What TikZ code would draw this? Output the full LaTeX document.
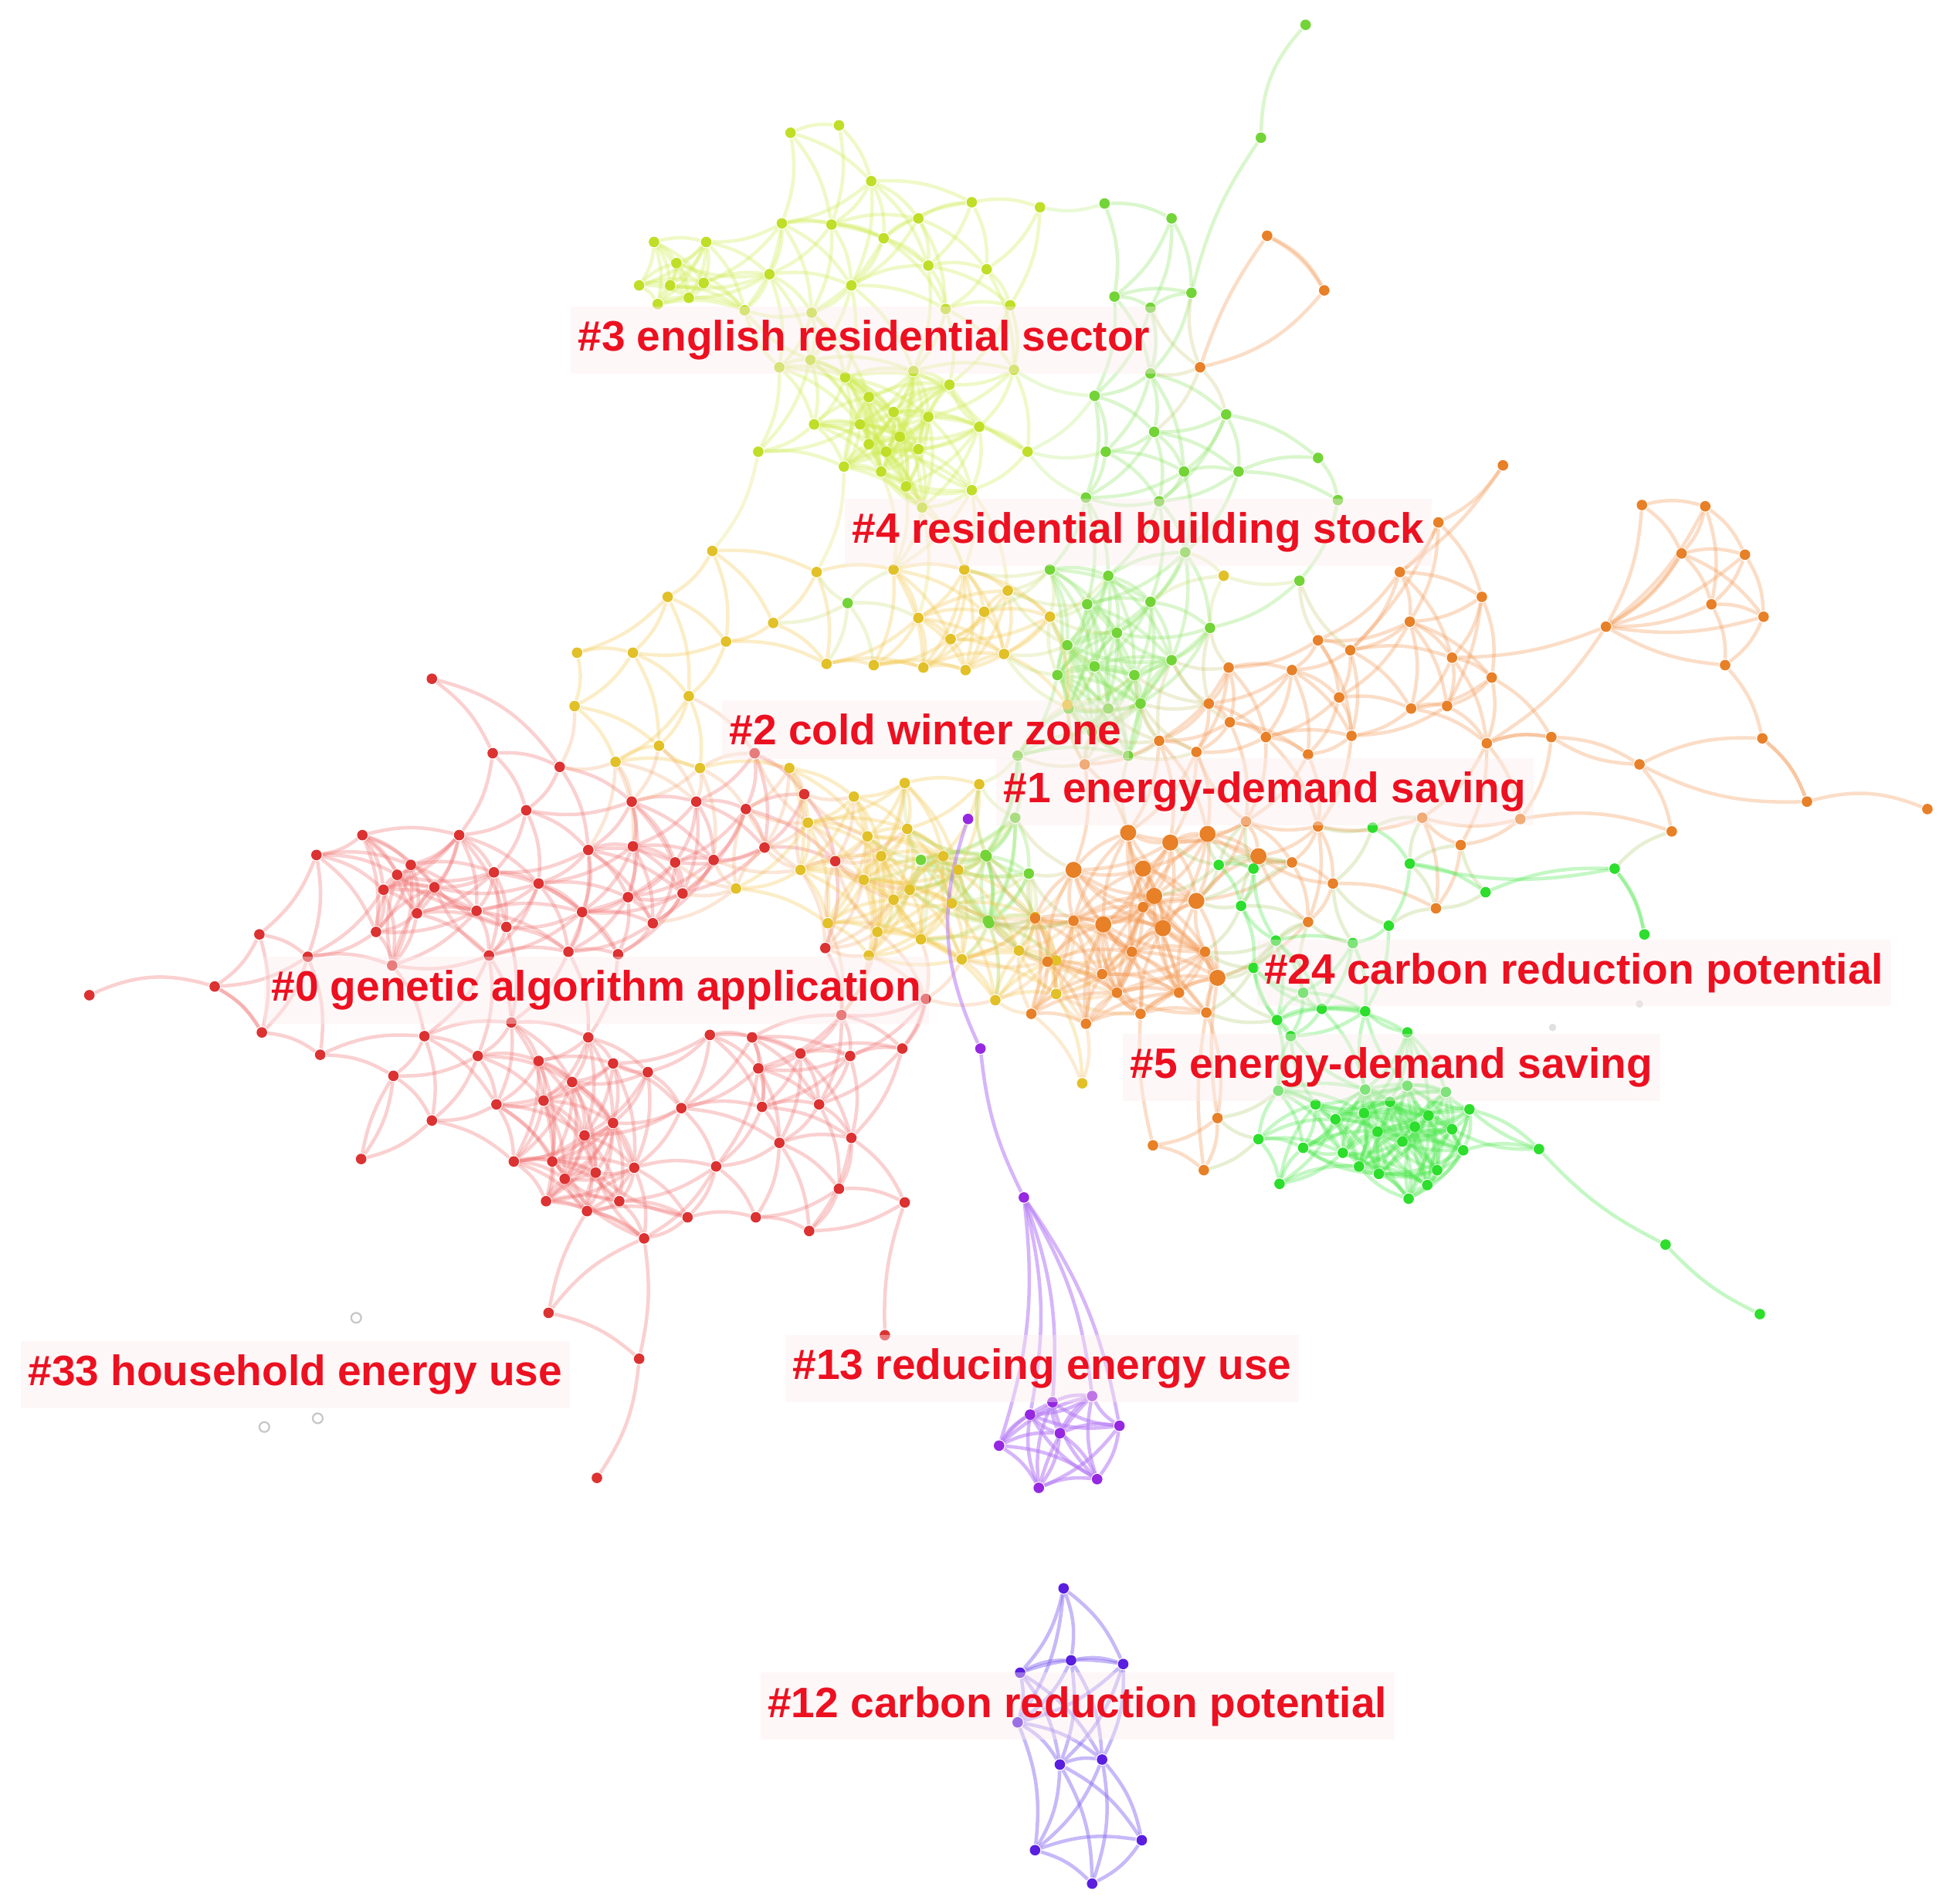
\documentclass[tikz,border=0pt]{standalone}
\usepackage{fontspec}
\setmainfont{Liberation Sans}
\pgfdeclarelayer{edges}
\pgfsetlayers{edges,main}
\definecolor{cR}{RGB}{220,50,50}   \definecolor{cRe}{RGB}{240,110,110}
\definecolor{cY3}{RGB}{192,222,40} \definecolor{cY3e}{RGB}{205,235,80}
\definecolor{cG4}{RGB}{115,212,55} \definecolor{cG4e}{RGB}{140,228,100}
\definecolor{cY2}{RGB}{226,192,40} \definecolor{cY2e}{RGB}{242,200,80}
\definecolor{cO1}{RGB}{232,128,40} \definecolor{cO1e}{RGB}{242,150,80}
\definecolor{cG5}{RGB}{45,222,45}  \definecolor{cG5e}{RGB}{70,230,70}
\definecolor{cP}{RGB}{150,40,225}  \definecolor{cPe}{RGB}{180,120,245}
\definecolor{cB}{RGB}{90,30,225}   \definecolor{cBe}{RGB}{130,100,240}
\definecolor{cLab}{RGB}{236,16,32} \definecolor{cLbg}{RGB}{252,236,238}
\tikzset{
  dot/.style={circle,inner sep=0pt,minimum size=0.85mm,draw=none},
  dR/.style={dot,fill=cR}, dY3/.style={dot,fill=cY3}, dG4/.style={dot,fill=cG4},
  dY2/.style={dot,fill=cY2}, dO1/.style={dot,fill=cO1}, dO1big/.style={dot,fill=cO1,minimum size=1.3mm},
  dG5/.style={dot,fill=cG5}, dP/.style={dot,fill=cP}, dB/.style={dot,fill=cB},
  hollow/.style={circle,inner sep=0pt,minimum size=0.8mm,draw=black!22,line width=0.4pt},
  faint/.style={circle,inner sep=0pt,minimum size=0.6mm,fill=black!12},
  edg/.style={line width=0.8pt,draw opacity=0.32},
  eR/.style={edg,draw=cRe}, eY3/.style={edg,draw=cY3e}, eG4/.style={edg,draw=cG4e},
  eY2/.style={edg,draw=cY2e}, eO1/.style={edg,draw=cO1e}, eG5/.style={edg,draw=cG5e},
  eP/.style={edg,draw=cPe,draw opacity=0.55}, eB/.style={edg,draw=cBe,draw opacity=0.45},
  eRT/.style={edg,draw=cRe!50!cY2e,draw opacity=0.25},
  eTY/.style={edg,draw=cY2e!50!cY3e,draw opacity=0.25},
  eYG/.style={edg,draw=cY3e!50!cG4e,draw opacity=0.25},
  eTG/.style={edg,draw=cY2e!50!cG4e,draw opacity=0.25},
  eTO/.style={edg,draw=cY2e!50!cO1e,draw opacity=0.25},
  eGO/.style={edg,draw=cG4e!50!cO1e,draw opacity=0.25},
  eOF/.style={edg,draw=cO1e!50!cG5e,draw opacity=0.25},
  lbl/.style={anchor=west,font=\fontsize{9.75}{11}\selectfont\bfseries,text=cLab,
    fill=cLbg,fill opacity=0.4,text opacity=1,inner xsep=0.6mm,inner ysep=1.1mm}
}
\newcommand\mknodes[3]{\foreach \x/\y in #2 {\node[#3] (#1\x-\y) at (\x,\y) {};}}
\newcommand\mkweb[4]{%
  \foreach \xa/\ya [count=\ia] in #2 {%
    \foreach \xb/\yb [count=\ib] in #2 {%
      \ifnum\ib>\ia\relax
        \pgfmathparse{veclen(\xb-\xa,\yb-\ya)}%
        \ifdim\pgfmathresult pt<#3pt\relax
          \draw[#4] (#1\xa-\ya) to[bend left=14] (#1\xb-\yb);
        \fi
      \fi
    }%
  }%
}
\newcommand\mkcross[6]{%
  \foreach \xa/\ya in #2 {%
    \foreach \xb/\yb in #4 {%
        \pgfmathparse{veclen(\xb-\xa,\yb-\ya)}%
        \ifdim\pgfmathresult pt<#5pt\relax
          \draw[#6] (#1\xa-\ya) to[bend right=14] (#3\xb-\yb);
        \fi
    }%
  }%
}
\def\Rlist{348/547,397/607,451/618,608/607,509/646,561/646,601/652,648/640,424/653,292/673,370/673,255/689,474/685,510/682,616/683,673/694,544/695,575/693,331/697,398/703,434/712,550/720,309/717,336/736,384/734,506/723,469/735,303/751,408/747,526/744,209/753,248/771,394/770,458/767,498/769,665/764,316/778,72/802,173/795,746/805,211/832,258/850,342/835,412/824,474/836,572/834,606/836,678/818,385/851,522/864,434/855,494/857,645/849,685/851,727/845,611/861,317/867,461/872,438/887,400/890,549/893,614/892,660/890,348/903,494/905,471/915,628/921,686/917,291/934,414/936,445/936,511/941,577/940,676/958,440/968,499/968,473/976,729/969,554/981,609/981,519/998,652/992,442/1058,713/1076,515/1095,481/1191,350/715,320/705,455/950,480/945}
\def\Ylist{637/107,676/101,702/146,630/180,670/181,712/192,740/176,783/163,838/167,527/195,569/195,515/230,567/228,620/221,686/230,748/214,795/217,762/249,814/246,654/252,628/296,653/290,681/304,736/299,817/298,720/332,748/336,656/342,693/342,789/344,611/364,680/376,714/364,740/362,828/364,783/395,743/409,700/358,725/352,710/380,730/392,545/212,530/245,540/230,555/240,700/320,765/310,600/250}
\def\Glist{890/164,944/176,898/239,927/248,960/236,927/301,882/319,988/334,930/348,891/364,954/380,998/380,1062/369,934/404,875/401,1078/403,846/459,893/464,955/445,1047/468,876/487,927/485,975/506,852/544,882/537,914/544,919/567,893/571,820/609,909/609,944/532,861/571,818/659,795/690,829/704,796/742,742/693,794/689,797/744,683/486,1016/111,1052/20,860/520,900/510,880/590}
\def\Tlist{574/444,658/461,720/459,777/459,538/481,623/502,740/498,793/493,812/476,846/497,585/517,766/515,465/526,510/526,666/535,704/536,744/538,778/540,809/527,555/561,463/569,496/614,564/619,636/619,729/631,688/642,789/632,651/663,699/674,731/668,772/701,645/701,696/709,593/716,733/717,767/728,667/744,707/751,742/757,834/739,775/773,802/806,851/801,872/873,821/766,851/774,860/568,986/464,531/601,710/690,720/725,700/770,760/690}
\def\Osmall{1211/375,1159/421,1128/461,1194/481,1323/407,1374/408,1355/446,1406/447,1379/487,1421/497,1294/505,1390/536,1136/501,1062/516,1088/524,1170/530,990/538,1041/540,1202/546,1079/562,974/567,1137/571,1166/569,991/582,934/597,1020/594,1089/593,1054/608,1198/599,1250/594,1321/616,1420/595,1456/646,1553/652,1347/670,1225/660,1177/681,1146/659,874/616,1062/666,1004/662,1041/695,1074/712,1157/732,1054/743,865/742,834/740,844/775,912/767,971/767,831/817,875/825,919/817,972/816,981/901,929/923,970/943,1021/190,1067/234,967/296,964/606,921/731,888/785,900/800,950/800}
\def\Obig{943/679,973/672,921/700,930/722,889/745,937/748,964/726,981/788,1014/690,865/701,909/671}
\def\Flist{982/697,1106/667,1136/696,1197/719,1301/700,1325/753,1119/746,1028/758,1090/760,1029/822,1065/813,1134/832,1014/918,1030/879,1076/902,1099/897,1151/899,1184/894,1130/920,1082/929,1179/927,1158/943,1111/946,1031/954,1135/966,1134/875,1240/926,1342/1003,1418/1059,1100/878,1120/888,1165/880,1060/890,1095/940,1150/955,1170/910,1050/925,1110/912,1140/908,1050/800,1100/815,1040/835,1010/700,1000/730,1010/780}
\def\Plist{780/660,790/845,825/965,805/1165,854/1155,902/1149,837/1199,884/1192,848/1130,880/1125,830/1140}
\def\Blist{857/1280,822/1348,863/1338,905/1341,820/1388,854/1422,888/1418,834/1491,920/1483,880/1518}
\edef\Olist{\Osmall,\Obig}
\begin{document}
\begin{tikzpicture}[x=0.1mm,y=-0.1mm]
\useasboundingbox (0,0) rectangle (1568,1534);
% nodes
\mknodes{r}{\Rlist}{dR}
\mknodes{y}{\Ylist}{dY3}
\mknodes{g}{\Glist}{dG4}
\mknodes{t}{\Tlist}{dY2}
\mknodes{o}{\Osmall}{dO1}
\mknodes{o}{\Obig}{dO1big}
\mknodes{f}{\Flist}{dG5}
\mknodes{p}{\Plist}{dP}
\mknodes{b}{\Blist}{dB}
\node[hollow] (h1) at (287,1062) {};
\node[hollow] (h2) at (213,1150) {};
\node[hollow] (h3) at (256,1143) {};
\node[faint] (q1) at (1251,828) {};
\node[faint] (q2) at (1321,809) {};
% edges
\begin{pgfonlayer}{edges}
\mkweb{r}{\Rlist}{86}{eR}
\mkweb{y}{\Ylist}{86}{eY3}
\mkweb{g}{\Glist}{90}{eG4}
\mkweb{t}{\Tlist}{86}{eY2}
\mkweb{o}{\Olist}{86}{eO1}
\mkweb{f}{\Flist}{74}{eG5}
\mkweb{p}{\Plist}{90}{eP}
\mkweb{b}{\Blist}{125}{eB}
\mkcross{r}{\Rlist}{t}{\Tlist}{75}{eRT}
\mkcross{t}{\Tlist}{y}{\Ylist}{90}{eTY}
\mkcross{y}{\Ylist}{g}{\Glist}{80}{eYG}
\mkcross{t}{\Tlist}{g}{\Glist}{70}{eTG}
\mkcross{t}{\Tlist}{o}{\Olist}{70}{eTO}
\mkcross{g}{\Glist}{o}{\Olist}{70}{eGO}
\mkcross{o}{\Olist}{f}{\Flist}{60}{eOF}
% red tails
\draw[eR] (r72-802) to[bend left=20] (r173-795);
\draw[eR] (r173-795) to[bend left=14] (r211-832);
\draw[eR] (r348-547) to[bend left=20] (r451-618);
\draw[eR] (r442-1058) to[bend left=14] (r519-998);
\draw[eR] (r442-1058) to[bend left=10] (r473-976);
\draw[eR] (r515-1095) to[bend right=10] (r519-998);
\draw[eR] (r481-1191) to[bend right=14] (r515-1095);
\draw[eR] (r713-1076) to[bend left=10] (r729-969);
\draw[eR] (r291-934) to[bend left=10] (r317-867);
\draw[eR] (r746-805) to[bend left=10] (r727-845);
% green tails
\draw[eG4] (g1052-20) to[bend right=20] (g1016-111);
\draw[eG4] (g1016-111) to[bend right=10] (g960-236);
% orange tails
\foreach \t in {1323-407,1374-408,1355-446,1406-447,1379-487,1421-497,1390-536}
  \draw[eO1] (o1294-505) to[bend right=12] (o\t);
\draw[eO1] (o1294-505) to[bend left=10] (o1170-530);
\draw[eO1] (o1294-505) to[bend left=12] (o1198-599);
\draw[eO1] (o1198-599) to[bend left=14] (o1250-594);
\draw[eO1] (o1250-594) to[bend right=14] (o1321-616);
\draw[eO1] (o1321-616) to[bend left=14] (o1420-595);
\draw[eO1] (o1420-595) to[bend left=14] (o1456-646);
\draw[eO1] (o1321-616) to[bend right=14] (o1456-646);
\draw[eO1] (o1456-646) to[bend left=18] (o1553-652);
\draw[eO1] (o1347-670) to[bend right=14] (o1225-660);
\draw[eO1] (o1211-375) to[bend left=10] (o1128-461);
\draw[eO1] (o1159-421) to[bend left=10] (o1088-524);
\draw[eO1] (o1194-481) to[bend left=10] (o1166-569);
\draw[eO1] (o1021-190) to[bend left=18] (o1067-234);
\draw[eO1] (o1067-234) to[bend left=18] (o967-296);
\draw[eO1] (o1021-190) to[bend right=8] (o967-296);
\draw[eO1] (o929-923) to[bend left=8] (o919-817);
\draw[eO1] (o970-943) to[bend left=8] (o972-816);
\draw[eO1] (o981-901) to[bend left=8] (o981-788);
% bright green tails
\draw[eG5] (f1240-926) to[bend right=10] (f1342-1003);
\draw[eG5] (f1342-1003) to[bend right=10] (f1418-1059);
\draw[eG5] (f1240-926) to[bend left=10] (f1184-894);
\draw[eG5] (f1197-719) to[bend left=12] (f1301-700);
\draw[eG5] (f1301-700) to[bend left=12] (f1325-753);
\draw[eG5] (f1136-696) to[bend right=12] (f1301-700);
% purple
\draw[eP] (p780-660) to[bend right=22] (p790-845);
\draw[eP] (p790-845) to[bend right=10] (p825-965);
\foreach \t in {805-1165,848-1130,880-1125,902-1149,830-1140}
  \draw[eP] (p825-965) to[bend left=12] (p\t);
\end{pgfonlayer}
% labels
\node[lbl] (L3) at (459,274) {\#3 english residential sector};
\node[lbl] (L4) at (680,429) {\#4 residential building stock};
\node[lbl] (L2) at (581,588) {\#2 cold winter zone};
\node[lbl] (L1) at (802,638) {\#1 energy-demand saving};
\node[lbl] (L0) at (212,798) {\#0 genetic algorithm application};
\node[lbl] (L24) at (1012,784) {\#24 carbon reduction potential};
\node[lbl] (L5) at (904,860) {\#5 energy-demand saving};
\node[lbl] (L33) at (16,1108) {\#33 household energy use};
\node[lbl] (L13) at (632,1103) {\#13 reducing energy use};
\node[lbl] (L12) at (612,1375) {\#12 carbon reduction potential};
\end{tikzpicture}
\end{document}
